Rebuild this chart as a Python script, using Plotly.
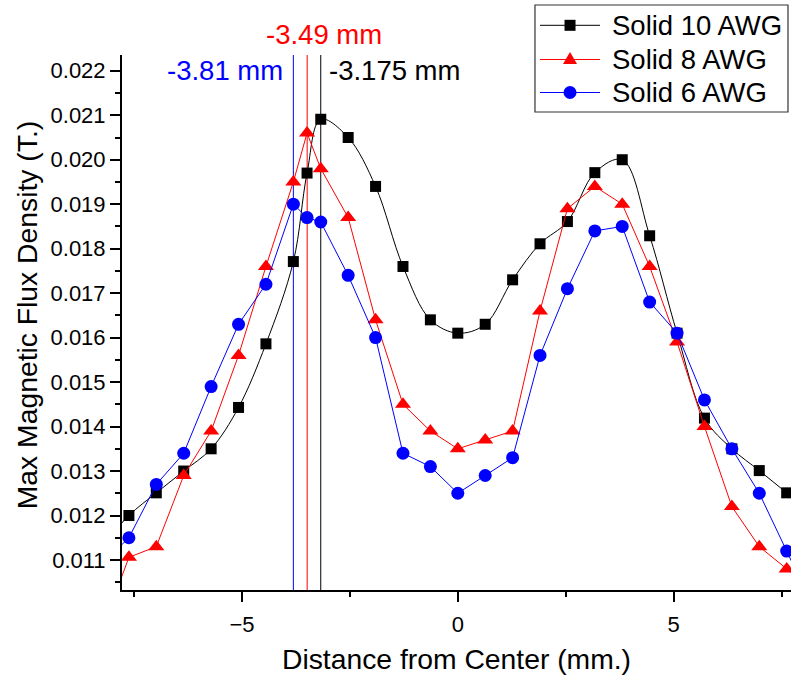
import plotly.graph_objects as go

# Probe positions across the conductor (mm), step of 0.635 mm plus the 8 AWG peak point
distance_mm = [-8.255, -7.62, -6.985, -6.35, -5.715, -5.08, -4.445, -3.81, -3.4925, -3.175,
               -2.54, -1.905, -1.27, -0.635, 0.0, 0.635, 1.27, 1.905, 2.54, 3.175,
               3.81, 4.445, 5.08, 5.715, 6.35, 6.985, 7.62, 8.255]

# Max magnetic flux density (T.)
solid_10_awg = [0.0113, 0.0120, 0.01251, 0.0130, 0.0135, 0.01443, 0.01586, 0.01771, 0.0197, 0.02091,
                0.0205, 0.0194, 0.0176, 0.0164, 0.0161, 0.0163, 0.0173, 0.01811, 0.01861, 0.01971,
                0.0200, 0.01829, 0.0161, 0.01419, 0.0135, 0.01301, 0.01251, 0.0120]
solid_8_awg = [0.0094, 0.01106, 0.0113, 0.0129, 0.0139, 0.0156, 0.0176, 0.0195, 0.0206, 0.0198,
               0.0187, 0.0164, 0.0145, 0.0139, 0.0135, 0.0137, 0.0139, 0.0166, 0.0189, 0.0194,
               0.0190, 0.0176, 0.0159, 0.0140, 0.0122, 0.0113, 0.0108, 0.0103]
solid_6_awg = [0.0109, 0.0115, 0.0127, 0.0134, 0.0149, 0.0163, 0.0172, 0.0190, 0.0187, 0.0186,
               0.0174, 0.0160, 0.0134, 0.0131, 0.0125, 0.0129, 0.0133, 0.0156, 0.0171, 0.0184,
               0.0185, 0.0168, 0.0161, 0.0146, 0.0135, 0.0125, 0.0112, 0.0099]

series_names = ["Solid 10 AWG", "Solid 8 AWG", "Solid 6 AWG"]
series_values = [solid_10_awg, solid_8_awg, solid_6_awg]
series_colors = ["#000000", "#FF0000", "#0000FF"]
series_symbols = ["square", "triangle-up", "circle"]
series_sizes = [11, 14, 13]
series_shapes = ["spline", "linear", "linear"]

# Peak locations marked with vertical lines
peak_positions = [-3.81, -3.49, -3.175]
peak_labels = ["-3.81 mm", "-3.49 mm", "-3.175 mm"]
peak_colors = ["#0000FF", "#FF0000", "#000000"]

FONT = "Arial, Liberation Sans, sans-serif"
TEXT_SIZE = 27.5
TITLE_SIZE = 28.3

fig = go.Figure()

for name, vals, col, sym, sz, shp in zip(series_names, series_values, series_colors,
                                         series_symbols, series_sizes, series_shapes):
    fig.add_trace(go.Scatter(
        x=distance_mm, y=vals, name=name, mode="lines+markers", showlegend=False,
        line=dict(color=col, width=1, shape=shp, smoothing=1.0),
        marker=dict(symbol=sym, size=sz, color=col),
    ))

for xp, col in zip(peak_positions, peak_colors):
    fig.add_shape(type="line", xref="x", yref="paper", x0=xp, x1=xp, y0=0, y1=1,
                  layer="below", line=dict(color=col, width=1))

# Peak labels
fig.add_annotation(x=peak_positions[0], y=0.022, xref="x", yref="y", text=peak_labels[0],
                   showarrow=False, xanchor="right", yanchor="middle", xshift=-8,
                   font=dict(family=FONT, size=TEXT_SIZE, color=peak_colors[0]))
fig.add_annotation(x=peak_positions[1], y=1.0374, xref="x", yref="paper", text=peak_labels[1],
                   showarrow=False, xanchor="left", yanchor="middle", xshift=-43,
                   font=dict(family=FONT, size=TEXT_SIZE, color=peak_colors[1]))
fig.add_annotation(x=peak_positions[2], y=0.022, xref="x", yref="y", text=peak_labels[2],
                   showarrow=False, xanchor="left", yanchor="middle", xshift=6,
                   font=dict(family=FONT, size=TEXT_SIZE, color=peak_colors[2]))

# Legend box drawn in paper coordinates (top right, partly above the plot area)
box_x0, box_x1, box_y0, box_y1 = 0.6173, 0.9955, 0.8935, 1.0935
row_y = [1.0555, 0.9916, 0.9299]
line_x0, line_x1, mark_x, text_x = 0.6248, 0.7145, 0.6697, 0.7294

# Legend symbol outlines, in pixels around the symbol centre (y up)
symbol_paths = {
    "square": "M -5.5,-5.5 L 5.5,-5.5 L 5.5,5.5 L -5.5,5.5 Z",
    "triangle-up": "M -7,-4.5 L 7,-4.5 L 0,7.5 Z",
    "circle": None,
}

fig.add_shape(type="rect", xref="paper", yref="paper", x0=box_x0, x1=box_x1, y0=box_y0, y1=box_y1,
              layer="above", fillcolor="white", line=dict(color="#333333", width=1.2))
for ry, name, col, sym in zip(row_y, series_names, series_colors, series_symbols):
    fig.add_shape(type="line", xref="paper", yref="paper", x0=line_x0, x1=line_x1, y0=ry, y1=ry,
                  layer="above", line=dict(color=col, width=1))
    if symbol_paths[sym] is None:
        fig.add_shape(type="circle", xref="paper", yref="paper",
                      xsizemode="pixel", ysizemode="pixel", xanchor=mark_x, yanchor=ry,
                      x0=-6.5, x1=6.5, y0=-6.5, y1=6.5, layer="above",
                      fillcolor=col, line=dict(color=col, width=0))
    else:
        fig.add_shape(type="path", xref="paper", yref="paper",
                      xsizemode="pixel", ysizemode="pixel", xanchor=mark_x, yanchor=ry,
                      path=symbol_paths[sym], layer="above",
                      fillcolor=col, line=dict(color=col, width=0))
    fig.add_annotation(x=text_x, y=ry, xref="paper", yref="paper", text=name, showarrow=False,
                       xanchor="left", yanchor="middle",
                       font=dict(family=FONT, size=TEXT_SIZE, color="black"))

# Y axis title, placed slightly above the axis midpoint
fig.add_annotation(x=-0.1425, y=0.513, xref="paper", yref="paper",
                   text="Max Magnetic Flux Density (T.)", textangle=-90, showarrow=False,
                   xanchor="center", yanchor="middle",
                   font=dict(family=FONT, size=TITLE_SIZE, color="black"))

fig.update_layout(
    width=791, height=681,
    margin=dict(l=122, r=0, t=55, b=91),
    paper_bgcolor="white", plot_bgcolor="white",
    font=dict(family=FONT, size=22, color="black"),
    showlegend=False,
)

fig.update_xaxes(
    range=[-7.78, 7.72], showgrid=False, zeroline=False,
    showline=True, linecolor="black", linewidth=2,
    ticks="outside", tickcolor="black", tickwidth=1.5, ticklen=10,
    dtick=5, tick0=0,
    minor=dict(dtick=2.5, ticks="outside", ticklen=5, tickcolor="black", tickwidth=1.5),
    title=dict(text="Distance from Center (mm.)", font=dict(size=TITLE_SIZE), standoff=13),
    tickfont=dict(size=22), ticklabelstandoff=4,
)
fig.update_yaxes(
    range=[0.010325, 0.022355], showgrid=False, zeroline=False,
    showline=True, linecolor="black", linewidth=2,
    ticks="outside", tickcolor="black", tickwidth=1.5, ticklen=10,
    dtick=0.001, tick0=0, tickformat=".3f",
    minor=dict(dtick=0.0005, ticks="outside", ticklen=5, tickcolor="black", tickwidth=1.5),
    tickfont=dict(size=22),
)

fig.write_html("out.html")
